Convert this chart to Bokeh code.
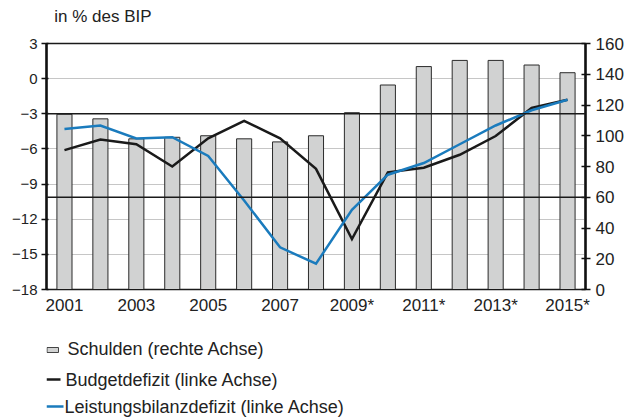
from bokeh.plotting import figure
from bokeh.models import Range1d, LinearAxis, FixedTicker, Span
from bokeh.layouts import column
from bokeh.core.properties import value
from bokeh.embed import file_html
from bokeh.resources import INLINE

# ---- data ----
years = [2001, 2002, 2003, 2004, 2005, 2006, 2007, 2008, 2009, 2010, 2011, 2012, 2013, 2014, 2015]
schulden = [114, 111, 98, 99, 100, 98, 96, 100, 115, 133, 145, 149, 149, 146, 141]
budgetdefizit = [-6.1, -5.2, -5.6, -7.5, -5.1, -3.6, -5.1, -7.7, -13.7, -8.0, -7.6, -6.5, -4.9, -2.5, -1.8]
leistungsbilanz = [-4.3, -4.0, -5.1, -5.0, -6.6, -10.4, -14.4, -15.8, -11.2, -8.2, -7.2, -5.6, -4.0, -2.7, -1.8]

x_ticks = [2001, 2003, 2005, 2007, 2009, 2011, 2013, 2015]
x_tick_labels = ["2001", "2003", "2005", "2007", "2009*", "2011*", "2013*", "2015*"]
left_ticks = [-18, -15, -12, -9, -6, -3, 0, 3]
right_ticks = [0, 20, 40, 60, 80, 100, 120, 140, 160]
left_threshold = -3
right_threshold = 60

title_text = "in % des BIP"
legend_labels = ["Schulden (rechte Achse)", "Budgetdefizit (linke Achse)",
                 "Leistungsbilanzdefizit (linke Achse)"]

FONT = "Liberation Sans"
TXT = "#222222"
BAR_FILL = "#d1d2d2"
BAR_LINE = "#2b2b2b"
BLACK = "#1a1a1a"
BLUE = "#1a7bbd"
W = 627
BL, BR = 46, 42

# ---- title strip ----
t = figure(width=W, height=28, x_range=Range1d(0, W), y_range=Range1d(28, 0),
           x_axis_type=None, y_axis_type=None, output_backend="svg",
           toolbar_location=None, min_border=0)
t.outline_line_color = None
t.grid.visible = False
t.text(x=[9], y=[15.5], text=[title_text], text_font=value(FONT), text_font_size="17px",
       text_color=TXT, text_baseline="middle", text_align="left")

# ---- main chart ----
p = figure(width=W, height=300, x_range=Range1d(2000.5, 2015.5), y_range=Range1d(-18, 3),
           output_backend="svg", toolbar_location=None,
           min_border_left=BL, min_border_right=BR, min_border_top=15, min_border_bottom=39)
p.extra_y_ranges = {"debt": Range1d(0, 160)}
p.outline_line_color = BLACK
p.outline_line_width = 1.5
p.xgrid.visible = False
p.ygrid.ticker = FixedTicker(ticks=left_ticks)
p.ygrid.grid_line_color = "#c6c6c6"
p.ygrid.grid_line_width = 1

ya = p.yaxis[0]
ya.ticker = FixedTicker(ticks=left_ticks)
ya.axis_line_width = 2.5
ya.axis_line_color = "#111111"
ya.major_tick_line_color = "#111111"
ya.major_tick_line_width = 1.5
ya.major_tick_out = 5
ya.major_tick_in = 2
ya.minor_tick_line_color = None
ya.major_label_standoff = 4
ya.major_label_text_font = FONT
ya.major_label_text_font_size = "15px"
ya.major_label_text_color = TXT

ra = LinearAxis(y_range_name="debt", ticker=FixedTicker(ticks=right_ticks))
ra.axis_line_width = 2.5
ra.axis_line_color = "#111111"
ra.major_tick_line_color = "#111111"
ra.major_tick_line_width = 1.5
ra.major_tick_out = 5
ra.major_tick_in = 4
ra.minor_tick_line_color = None
ra.major_label_standoff = 5
ra.major_label_text_font = FONT
ra.major_label_text_font_size = "17px"
ra.major_label_text_color = TXT
p.add_layout(ra, "right")

xa = p.xaxis[0]
xa.ticker = FixedTicker(ticks=x_ticks)
xa.major_label_overrides = {k: v for k, v in zip(x_ticks, x_tick_labels)}
xa.axis_line_color = BLACK
xa.axis_line_width = 1
xa.major_tick_line_color = None
xa.minor_tick_line_color = None
xa.major_tick_out = 0
xa.major_tick_in = 0
xa.major_label_standoff = 6
xa.major_label_text_font = FONT
xa.major_label_text_font_size = "17px"
xa.major_label_text_color = TXT

p.vbar(x=years, top=schulden, bottom=0, width=0.42, y_range_name="debt",
       fill_color=BAR_FILL, line_color=BAR_LINE, line_width=1)

p.add_layout(Span(location=left_threshold, dimension="width", line_color=BLACK, line_width=1.5))
p.add_layout(Span(location=right_threshold, dimension="width", y_range_name="debt",
                  line_color=BLACK, line_width=1.5))

p.line(years, budgetdefizit, line_color=BLACK, line_width=2.5, line_join="miter")
p.line(years, leistungsbilanz, line_color=BLUE, line_width=2.5, line_join="miter")

# ---- legend strip (frame matches main frame, data x == canvas x) ----
LH = 91
lg = figure(width=W, height=LH, x_range=Range1d(BL, W - BR), y_range=Range1d(LH, 0),
            x_axis_type=None, y_axis_type=None, output_backend="svg",
            toolbar_location=None, min_border_left=BL, min_border_right=BR,
            min_border_top=0, min_border_bottom=0)
lg.outline_line_color = None
lg.grid.visible = False
rows = [20, 51, 78]
lg.quad(left=[46.5], right=[58], top=[19], bottom=[24], fill_color=BAR_FILL,
        line_color="#444444", line_width=1)
lg.line([46, 60], [rows[1], rows[1]], line_color=BLACK, line_width=2.5)
lg.line([46, 63], [rows[2], rows[2]], line_color=BLUE, line_width=2.5)
lg.text(x=[67, 65, 64], y=rows, text=legend_labels, text_font=value(FONT),
        text_font_size="18px", text_color=TXT, text_baseline="middle", text_align="left")

layout = column(t, p, lg, spacing=0)
open("out.html", "w").write(file_html(layout, INLINE))
